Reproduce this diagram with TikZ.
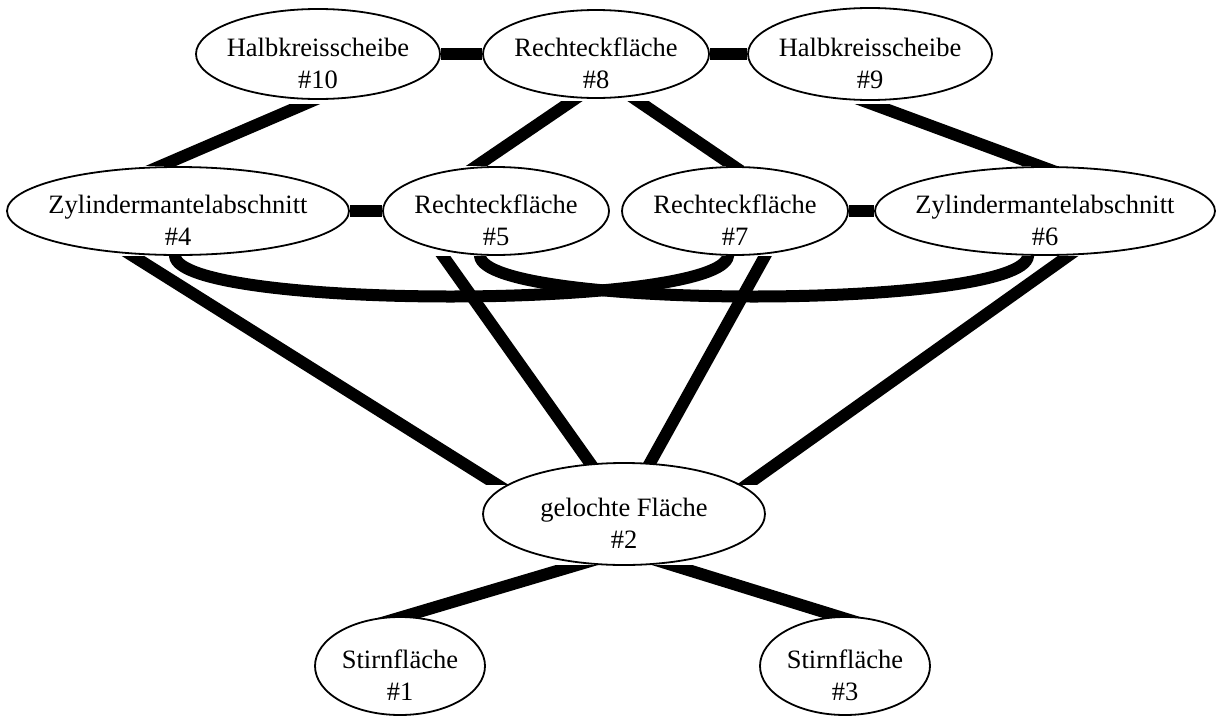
\documentclass[tikz,border=0pt]{standalone}
\usepackage{fontspec}
\setmainfont{Liberation Serif}
\usetikzlibrary{calc,shapes.geometric}
\newcommand{\cutedge}[2]{%
  \begin{scope}
    \clip (#1 -| bbL) rectangle (#2 -| bbR);
    \draw[conn] ($(#1)!-0.5!(#2)$) -- ($(#2)!-0.5!(#1)$);
  \end{scope}}
\begin{document}
\begin{tikzpicture}[x=1pt,y=-1pt,
  ell/.style={draw, ellipse, line width=1.8pt, inner sep=0pt},
  lbl/.style={align=center, inner sep=0pt, font=\fontsize{26.5}{32}\selectfont},
  conn/.style={line width=12pt}]
\useasboundingbox (0,0) rectangle (1218,715);
\coordinate (bbL) at (0,0);
\coordinate (bbR) at (1218,715);

% ellipses
\node[ell, minimum width=244pt, minimum height=90pt] (n10) at (318,54) {};
\node[ell, minimum width=226pt, minimum height=88pt] (n8) at (596,54) {};
\node[ell, minimum width=244pt, minimum height=92pt] (n9) at (870,54) {};
\node[ell, minimum width=342pt, minimum height=88pt] (n4) at (178,211) {};
\node[ell, minimum width=226pt, minimum height=88pt] (n5) at (496,211) {};
\node[ell, minimum width=226pt, minimum height=88pt] (n7) at (735,211) {};
\node[ell, minimum width=340pt, minimum height=88pt] (n6) at (1045,211) {};
\node[ell, minimum width=282pt, minimum height=102pt] (n2) at (624,514) {};
\node[ell, minimum width=170pt, minimum height=98pt] (n1) at (400,666) {};
\node[ell, minimum width=170pt, minimum height=98pt] (n3) at (845,666) {};

% labels
\node[lbl] (t10) at ($(n10)+(0,9)$) {Halbkreisscheibe\\\#10};
\node[lbl] (t8) at ($(n8)+(0,9)$) {Rechteckfläche\\\#8};
\node[lbl] (t9) at ($(n9)+(0,9)$) {Halbkreisscheibe\\\#9};
\node[lbl] (t4) at ($(n4)+(0,9)$) {Zylindermantelabschnitt\\\#4};
\node[lbl] (t5) at ($(n5)+(0,9)$) {Rechteckfläche\\\#5};
\node[lbl] (t7) at ($(n7)+(0,9)$) {Rechteckfläche\\\#7};
\node[lbl] (t6) at ($(n6)+(0,9)$) {Zylindermantelabschnitt\\\#6};
\node[lbl] (t2) at ($(n2)+(0,9)$) {gelochte Fläche\\\#2};
\node[lbl] (t1) at ($(n1)+(0,9)$) {Stirnfläche\\\#1};
\node[lbl] (t3) at ($(n3)+(0,9)$) {Stirnfläche\\\#3};

% horizontal connectors
\draw[conn] (n10.east) -- (n8.west);
\draw[conn] (n8.east) -- (n9.west);
\draw[conn] (n4.east) -- (n5.west);
\draw[conn] (n7.east) -- (n6.west);

% end points of sloped connectors
\coordinate (e3a) at ($(n10)+(-13,50)$);  \coordinate (e3b) at ($(n4)+(-15,-46)$);
\coordinate (e4a) at ($(n8)+(-24,47)$);   \coordinate (e4b) at ($(n5)+(-18,-46)$);
\coordinate (e5a) at ($(n8)+(42,47)$);    \coordinate (e5b) at ($(n7)+(-3,-46)$);
\coordinate (e6a) at ($(n9)+(2,50)$);     \coordinate (e6b) at ($(n6)+(-8,-46)$);
\coordinate (e9a) at ($(n4)+(-45,45)$);   \coordinate (e9b) at ($(n2)+(-128,-30)$);
\coordinate (e10a) at ($(n5)+(-53,45)$);  \coordinate (e10b) at ($(n2)+(-34,-51)$);
\coordinate (e11a) at ($(n7)+(30,45)$);   \coordinate (e11b) at ($(n2)+(26,-51)$);
\coordinate (e12a) at ($(n6)+(23,45)$);   \coordinate (e12b) at ($(n2)+(124,-30)$);
\coordinate (e13a) at ($(n2)+(-47,51)$);  \coordinate (e13b) at ($(n1)+(2,-49)$);
\coordinate (e14a) at ($(n2)+(48,51)$);   \coordinate (e14b) at ($(n3)+(-5,-49)$);

\cutedge{e3a}{e3b}
\cutedge{e4a}{e4b}
\cutedge{e5a}{e5b}
\cutedge{e6a}{e6b}
\cutedge{e9a}{e9b}
\cutedge{e10a}{e10b}
\cutedge{e11a}{e11b}
\cutedge{e12a}{e12b}
\cutedge{e13a}{e13b}
\cutedge{e14a}{e14b}

% curved connectors
\coordinate (c1a) at ($(n4)+(-3,45)$);   \coordinate (c1b) at ($(n7)+(-7,45)$);
\coordinate (c2a) at ($(n5)+(-16,45)$);  \coordinate (c2b) at ($(n6)+(-17,45)$);
\begin{scope}
  \clip (0,256) rectangle (1218,400);
  \draw[conn] ($(c1a)+(0,-6)$) -- (c1a) .. controls ($(c1a)+(5,54)$) and ($(c1b)+(-8,54)$) .. (c1b) -- ($(c1b)+(0,-6)$);
  \draw[conn] ($(c2a)+(0,-6)$) -- (c2a) .. controls ($(c2a)+(5,54)$) and ($(c2b)+(-5,54)$) .. (c2b) -- ($(c2b)+(0,-6)$);
\end{scope}
\end{tikzpicture}
\end{document}
